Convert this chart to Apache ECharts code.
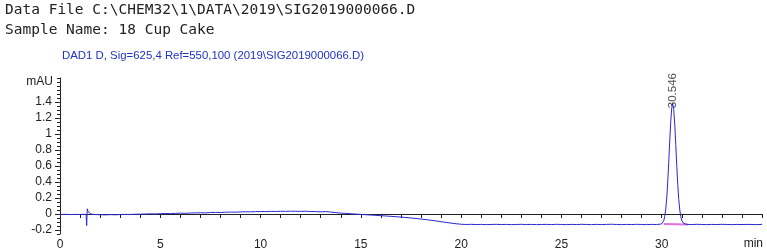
<!DOCTYPE html>
<html>
<head>
<meta charset="utf-8">
<script src="https://cdn.jsdelivr.net/npm/echarts@6/dist/echarts.min.js"></script>
<style>
html,body{margin:0;padding:0;background:#fff;}
#chart{width:767px;height:252px;}
</style>
</head>
<body>
<div id="chart"></div>
<script>
// ---- Data ----
const headerLine1 = 'Data File C:\\CHEM32\\1\\DATA\\2019\\SIG2019000066.D';
const headerLine2 = 'Sample Name: 18 Cup Cake';
const signalTitle = 'DAD1 D, Sig=625,4 Ref=550,100 (2019\\SIG2019000066.D)';

const timeMin = [
  0.00,0.25,0.50,0.75,1.00,1.20,1.30,1.33,1.36,1.40,1.45,1.55,1.75,
  2.00,2.25,2.50,2.75,3.00,3.25,3.50,3.75,4.00,4.25,4.50,4.75,
  5.00,5.25,5.50,5.75,6.00,6.25,6.50,6.75,7.00,7.25,7.50,7.75,
  8.00,8.25,8.50,8.75,9.00,9.25,9.50,9.75,10.00,10.25,10.50,10.75,
  11.00,11.25,11.50,11.75,12.00,12.25,12.50,12.75,13.00,13.25,13.50,13.75,
  14.00,14.25,14.50,14.75,15.00,15.25,15.50,15.75,16.00,16.25,16.50,16.75,
  17.00,17.25,17.50,17.75,18.00,18.25,18.50,18.75,19.00,19.25,19.50,19.75,
  20.00,20.25,20.50,20.75,21.00,21.25,21.50,21.75,22.00,22.25,22.50,22.75,
  23.00,23.25,23.50,23.75,24.00,24.25,24.50,24.75,25.00,25.25,25.50,25.75,
  26.00,26.25,26.50,26.75,27.00,27.25,27.50,27.75,28.00,28.25,28.50,28.75,
  29.00,29.25,29.50,29.75,
  30.00,30.05,30.10,30.15,30.20,30.25,30.30,30.35,30.40,30.45,30.50,30.546,
  30.60,30.65,30.70,30.75,30.80,30.85,30.90,30.95,31.00,31.05,31.10,31.15,31.25,
  31.50,31.75,32.00,32.25,32.50,32.75,33.00,33.25,33.50,33.75,34.00,34.25,34.50,34.75,35.00
];
const signalMAU = [
  -0.006,-0.004,-0.007,-0.005,-0.006,-0.004,-0.008,-0.145,0.065,0.030,0.012,-0.002,-0.007,
  -0.009,-0.011,-0.008,-0.010,-0.007,-0.005,-0.006,-0.003,-0.002,0.000,0.002,0.001,
  0.004,0.006,0.005,0.008,0.010,0.009,0.012,0.014,0.015,0.014,0.018,0.020,
  0.019,0.022,0.024,0.023,0.026,0.028,0.027,0.030,0.031,0.030,0.033,0.032,
  0.034,0.033,0.035,0.034,0.033,0.034,0.031,0.030,0.027,0.031,0.024,0.017,
  0.011,0.008,0.003,-0.001,-0.006,-0.009,-0.013,-0.017,-0.021,-0.025,-0.029,-0.034,
  -0.039,-0.044,-0.050,-0.056,-0.063,-0.070,-0.078,-0.087,-0.096,-0.105,-0.114,-0.122,
  -0.128,-0.131,-0.129,-0.132,-0.130,-0.133,-0.131,-0.129,-0.132,-0.130,-0.133,-0.131,
  -0.129,-0.132,-0.130,-0.133,-0.131,-0.130,-0.132,-0.129,-0.131,-0.133,-0.130,-0.132,
  -0.129,-0.131,-0.133,-0.130,-0.132,-0.130,-0.128,-0.131,-0.133,-0.130,-0.132,-0.129,
  -0.131,-0.133,-0.130,-0.132,
  -0.124,-0.112,-0.084,-0.032,0.058,0.200,0.398,0.645,0.912,1.156,1.324,1.380,
  1.304,1.120,0.870,0.605,0.368,0.180,0.050,-0.033,-0.080,-0.105,-0.118,-0.125,-0.130,
  -0.132,-0.129,-0.131,-0.133,-0.130,-0.132,-0.129,-0.131,-0.133,-0.130,-0.132,-0.130,-0.131,-0.133,-0.130
];

// integration baseline of the peak
const integTime = [30.10, 31.30];
const integMAU = [-0.126, -0.131];

// peak annotation
const peakTime = [30.546];
const peakMAU = [1.380];
const peakLabels = ['30.546'];

// axis labels
const yTickValues = [-0.2, 0, 0.2, 0.4, 0.6, 0.8, 1, 1.2, 1.4];
const yUnit = 'mAU';
const xUnit = 'min';

// ---- Build chart ----
const lineData = timeMin.map((t, i) => [t, signalMAU[i]]);
const integData = integTime.map((t, i) => [t, integMAU[i]]);
const peakData = peakTime.map((t, i) => ({ value: [t, peakMAU[i]], name: peakLabels[i] }));

const axisColor = '#222';
const labelFont = 'Liberation Sans, Arial, sans-serif';

const chart = echarts.init(document.getElementById('chart'), null, { renderer: 'canvas' });
chart.setOption({
  animation: false,
  backgroundColor: '#fff',
  grid: { left: 60, right: 5, top: 78, bottom: 18 },
  xAxis: {
    type: 'value', min: 0, max: 35, interval: 1,
    axisLine: { lineStyle: { color: axisColor, width: 1 } },
    axisTick: { show: true, inside: false, length: 4, lineStyle: { color: axisColor } },
    axisLabel: {
      margin: 5, color: '#222', fontSize: 12, fontFamily: labelFont,
      formatter: v => (Math.abs(v % 5) < 1e-9 && v < 35) ? String(v) : ''
    },
    splitLine: { show: false }
  },
  yAxis: [{
    type: 'value', min: -0.25, max: 1.7,
    axisLine: { show: true, lineStyle: { color: axisColor, width: 1 } },
    axisTick: { show: true, length: 5, customValues: yTickValues, lineStyle: { color: axisColor } },
    axisLabel: {
      margin: 8, color: '#222', fontSize: 12, fontFamily: labelFont,
      customValues: yTickValues,
      formatter: v => String(Math.round(v * 10) / 10)
    },
    splitLine: { show: false }
  }, {
    type: 'value', min: -0.25, max: 1.7, interval: 0.05, position: 'left',
    axisLine: { show: false },
    axisTick: { show: true, length: 3, lineStyle: { color: axisColor } },
    axisLabel: {
      margin: 7, color: '#222', fontSize: 12, fontFamily: labelFont,
      formatter: v => Math.abs(v - 1.65) < 1e-6 ? yUnit : ''
    },
    splitLine: { show: false }
  }],
  series: [{
    type: 'line', data: lineData, showSymbol: false, symbol: 'none',
    lineStyle: { color: '#2828d2', width: 1 }, z: 3
  }, {
    type: 'line', data: integData, showSymbol: false, symbol: 'none',
    lineStyle: { color: '#e070e0', width: 2 }, z: 2
  }, {
    type: 'scatter', data: peakData, symbolSize: 0, z: 4,
    label: {
      show: true, position: 'inside', rotate: 90, offset: [13, 0],
      formatter: p => p.name, color: '#222', fontSize: 11.5, fontFamily: labelFont
    }
  }],
  graphic: [
    { type: 'text', left: 5, top: 3, style: { text: headerLine1, font: '14.5px "DejaVu Sans Mono", monospace', fill: '#222' } },
    { type: 'text', left: 5, top: 23, style: { text: headerLine2, font: '14.5px "DejaVu Sans Mono", monospace', fill: '#222' } },
    { type: 'text', left: 62, top: 50, style: { text: signalTitle, font: '11.4px "Liberation Sans", Arial, sans-serif', fill: '#1f33c4' } },
    { type: 'text', right: 4, top: 238, style: { text: xUnit, font: '12px "Liberation Sans", Arial, sans-serif', fill: '#222' } }
  ]
});
</script>
</body>
</html>
